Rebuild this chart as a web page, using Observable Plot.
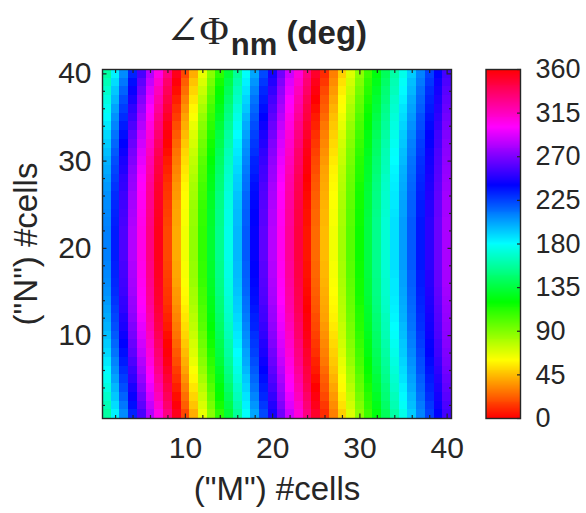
<!DOCTYPE html>
<html>
<head>
<meta charset="utf-8">
<script src="https://cdn.jsdelivr.net/npm/d3@7"></script>
<script src="https://cdn.jsdelivr.net/npm/@observablehq/plot@0.6"></script>
<style>
  html, body { margin: 0; padding: 0; background: #fff; }
  #figure { position: relative; width: 586px; height: 513px; overflow: hidden;
            font-family: "Liberation Sans", Arial, Helvetica, sans-serif; color: #262626; }
  #figure svg { position: absolute; left: 0; top: 0; }
  #title { position: absolute; left: 92px; width: 349px; top: 14px; z-index: 2;
           text-align: center; font-size: 33px; font-weight: bold; line-height: 34px; white-space: nowrap; }
  #title .sym { font-family: "Liberation Serif", "DejaVu Serif", serif; font-weight: normal; font-size: 40px; }
  #title .sub { position: relative; top: 11px; font-size: 31px; margin-left: 2px; }
</style>
</head>
<body>
<div id="figure">
  <div id="title"><span class="sym">∠Φ</span><span class="sub">nm</span> (deg)</div>
</div>
<script>
// Cell indices along the two array directions
const cellsM = [1,2,3,4,5,6,7,8,9,10,11,12,13,14,15,16,17,18,19,20,21,22,23,24,25,26,27,28,29,30,31,32,33,34,35,36,37,38,39,40];
const cellsN = [1,2,3,4,5,6,7,8,9,10,11,12,13,14,15,16,17,18,19,20,21,22,23,24,25,26,27,28,29,30,31,32,33,34,35,36,37,38,39,40];

// Phase of each cell in degrees; one row per N (N = 1 first), one entry per M
const phaseRows = [
  [158,183,207,232,257,282,306,330,354,17,41,65,88,110,133,156,179,201,223,245,266,288,309,330,350,10,30,49,68,87,106,123,141,159,175,192,209,225,240,256],
  [163,188,212,237,262,286,311,335,358,22,46,69,92,115,137,160,183,205,227,248,270,292,312,333,354,13,33,53,71,90,109,126,144,162,178,195,211,227,243,258],
  [168,193,217,242,266,291,316,339,3,26,50,73,96,119,141,164,186,209,231,252,274,295,316,336,357,17,36,56,74,93,111,129,147,164,181,197,214,230,245,261],
  [173,197,222,246,271,295,320,343,7,30,54,77,100,122,145,167,190,213,234,256,277,299,319,340,0,20,39,59,77,96,114,132,149,167,183,200,216,232,247,263],
  [177,202,226,251,275,299,324,347,11,34,58,81,104,126,149,171,193,216,237,259,280,302,322,343,3,22,42,61,80,98,117,134,152,169,186,202,218,234,249,265],
  [181,206,230,254,279,303,328,351,14,38,61,85,107,129,152,174,197,219,240,262,283,305,325,345,6,25,45,64,82,101,119,137,154,171,188,204,221,236,251,267],
  [185,209,234,258,282,307,331,355,18,41,65,88,110,133,155,177,200,222,243,265,286,307,328,348,8,28,47,66,85,103,121,139,156,173,190,206,222,238,253,269],
  [189,213,237,262,286,310,334,358,21,44,68,91,113,136,158,180,202,225,246,267,289,310,330,350,11,30,49,69,87,105,124,141,158,175,192,208,224,240,255,270],
  [192,216,240,265,289,313,337,1,24,47,70,94,116,138,160,183,205,227,248,270,291,312,332,353,13,32,51,71,89,107,125,143,160,177,193,210,226,241,256,272],
  [195,219,243,268,292,316,340,3,27,50,73,96,118,141,163,185,207,229,251,272,293,314,335,355,15,34,53,73,91,109,127,144,162,179,195,211,227,243,258,273],
  [198,222,246,270,294,319,343,6,29,52,75,99,121,143,165,187,209,232,253,274,295,316,336,357,17,36,55,74,92,111,129,146,163,180,196,213,229,244,259,274],
  [200,224,248,273,297,321,345,8,31,54,77,101,123,145,167,189,211,233,255,276,297,318,338,358,18,38,57,76,94,112,130,147,164,182,198,214,230,245,260,275],
  [202,226,251,275,299,323,347,10,33,56,79,102,125,147,169,191,213,235,256,277,298,320,340,0,20,39,58,77,95,113,131,149,166,183,199,215,231,246,261,276],
  [204,228,252,276,301,325,349,12,35,58,81,104,126,148,170,192,214,237,258,279,300,321,341,1,21,40,59,78,96,115,133,150,167,184,200,216,232,247,262,277],
  [206,230,254,278,302,326,350,13,36,59,82,105,128,150,172,194,216,238,259,280,301,322,342,2,22,41,60,79,97,116,134,151,168,185,201,217,233,248,263,278],
  [207,231,255,279,303,327,351,14,38,61,84,107,129,151,173,195,217,239,260,281,302,323,343,3,23,42,61,80,98,116,134,151,168,185,202,218,234,249,264,279],
  [208,232,256,280,304,328,352,15,39,62,85,108,130,152,174,196,218,240,261,282,303,324,344,4,24,43,62,81,99,117,135,152,169,186,202,218,234,249,264,279],
  [209,233,257,281,305,329,353,16,39,62,85,108,130,152,174,196,218,240,261,282,303,324,344,4,24,43,62,81,99,117,136,153,170,187,203,219,235,250,265,280],
  [210,234,258,282,306,330,354,17,40,63,86,109,131,153,175,197,219,241,262,283,304,325,345,5,25,44,63,82,100,118,136,153,170,187,203,219,235,250,265,280],
  [210,234,258,282,306,330,354,17,40,63,86,109,131,153,175,197,219,241,262,283,304,325,345,5,25,44,63,82,100,118,136,153,170,187,203,219,235,250,265,280],
  [210,234,258,282,306,330,354,17,40,63,86,109,131,153,175,197,219,241,262,283,304,325,345,5,25,44,63,82,100,118,136,153,170,187,203,219,235,250,265,280],
  [210,234,258,282,306,330,354,17,40,63,86,109,131,153,175,197,219,241,262,283,304,325,345,5,25,44,63,82,100,118,136,153,170,187,203,219,235,250,265,280],
  [209,233,257,281,305,329,353,16,39,62,85,108,130,152,174,196,218,240,261,282,303,324,344,4,24,43,62,81,99,117,136,153,170,187,203,219,235,250,265,280],
  [208,232,256,280,304,328,352,15,39,62,85,108,130,152,174,196,218,240,261,282,303,324,344,4,24,43,62,81,99,117,135,152,169,186,202,218,234,249,264,279],
  [207,231,255,279,303,327,351,14,38,61,84,107,129,151,173,195,217,239,260,281,302,323,343,3,23,42,61,80,98,116,134,151,168,185,202,218,234,249,264,279],
  [206,230,254,278,302,326,350,13,36,59,82,105,128,150,172,194,216,238,259,280,301,322,342,2,22,41,60,79,97,116,134,151,168,185,201,217,233,248,263,278],
  [204,228,252,276,301,325,349,12,35,58,81,104,126,148,170,192,214,237,258,279,300,321,341,1,21,40,59,78,96,115,133,150,167,184,200,216,232,247,262,277],
  [202,226,251,275,299,323,347,10,33,56,79,102,125,147,169,191,213,235,256,277,298,320,340,0,20,39,58,77,95,113,131,149,166,183,199,215,231,246,261,276],
  [200,224,248,273,297,321,345,8,31,54,77,101,123,145,167,189,211,233,255,276,297,318,338,358,18,38,57,76,94,112,130,147,164,182,198,214,230,245,260,275],
  [198,222,246,270,294,319,343,6,29,52,75,99,121,143,165,187,209,232,253,274,295,316,336,357,17,36,55,74,92,111,129,146,163,180,196,213,229,244,259,274],
  [195,219,243,268,292,316,340,3,27,50,73,96,118,141,163,185,207,229,251,272,293,314,335,355,15,34,53,73,91,109,127,144,162,179,195,211,227,243,258,273],
  [192,216,240,265,289,313,337,1,24,47,70,94,116,138,160,183,205,227,248,270,291,312,332,353,13,32,51,71,89,107,125,143,160,177,193,210,226,241,256,272],
  [189,213,237,262,286,310,334,358,21,44,68,91,113,136,158,180,202,225,246,267,289,310,330,350,11,30,49,69,87,105,124,141,158,175,192,208,224,240,255,270],
  [185,209,234,258,282,307,331,355,18,41,65,88,110,133,155,177,200,222,243,265,286,307,328,348,8,28,47,66,85,103,121,139,156,173,190,206,222,238,253,269],
  [181,206,230,254,279,303,328,351,14,38,61,85,107,129,152,174,197,219,240,262,283,305,325,345,6,25,45,64,82,101,119,137,154,171,188,204,221,236,251,267],
  [177,202,226,251,275,299,324,347,11,34,58,81,104,126,149,171,193,216,237,259,280,302,322,343,3,22,42,61,80,98,117,134,152,169,186,202,218,234,249,265],
  [173,197,222,246,271,295,320,343,7,30,54,77,100,122,145,167,190,213,234,256,277,299,319,340,0,20,39,59,77,96,114,132,149,167,183,200,216,232,247,263],
  [168,193,217,242,266,291,316,339,3,26,50,73,96,119,141,164,186,209,231,252,274,295,316,336,357,17,36,56,74,93,111,129,147,164,181,197,214,230,245,261],
  [163,188,212,237,262,286,311,335,358,22,46,69,92,115,137,160,183,205,227,248,270,292,312,333,354,13,33,53,71,90,109,126,144,162,178,195,211,227,243,258],
  [158,183,207,232,257,282,306,330,354,17,41,65,88,110,133,156,179,201,223,245,266,288,309,330,350,10,30,49,68,87,106,123,141,159,175,192,209,225,240,256]
];

const majorTicks = [10, 20, 30, 40];
const minorTicks = [2, 4, 6, 8, 12, 14, 16, 18, 22, 24, 26, 28, 32, 34, 36, 38];
const colorTicks = [0, 45, 90, 135, 180, 225, 270, 315, 360];
const xLabel = '("M") #cells';
const yLabel = '("N") #cells';

// Long table: one record per cell
const cells = cellsN.flatMap((n, i) => cellsM.map((m, j) => ({m, n, phase: phaseRows[i][j]})));

const ink = "#262626";
const font = '"Liberation Sans", Arial, Helvetica, sans-serif';
// hue wheel colour map: 0° and 360° are both red
const phaseColor = {type: "linear", domain: [0, 360], interpolate: t => d3.hsl(t * 360, 1, 0.5).formatRgb()};

const figure = document.getElementById("figure");

const heat = Plot.plot({
  width: 586, height: 513,
  marginTop: 69, marginRight: 135, marginBottom: 95, marginLeft: 102,
  x: {domain: [0.5, 40.5]},
  y: {domain: [0.5, 40.5]},
  color: phaseColor,
  style: {background: "transparent", fontFamily: font, fontSize: "30px", color: ink},
  marks: [
    Plot.rect(cells, {
      x1: d => d.m - 0.5, x2: d => d.m + 0.5,
      y1: d => d.n - 0.5, y2: d => d.n + 0.5,
      fill: "phase", shapeRendering: "crispEdges"
    }),
    Plot.axisX({anchor: "bottom", ticks: majorTicks, tickSize: -4.5, tickPadding: 23, label: null, strokeWidth: 1.2}),
    Plot.axisX({anchor: "bottom", ticks: minorTicks, tickSize: -3, tickFormat: () => "", label: null, strokeWidth: 1.2}),
    Plot.axisX({anchor: "top", ticks: majorTicks, tickSize: -4.5, tickFormat: () => "", label: null, strokeWidth: 1.2}),
    Plot.axisX({anchor: "top", ticks: minorTicks, tickSize: -3, tickFormat: () => "", label: null, strokeWidth: 1.2}),
    Plot.axisY({anchor: "left", ticks: majorTicks, tickSize: -4.5, tickPadding: 15.5, label: null, strokeWidth: 1.2}),
    Plot.axisY({anchor: "left", ticks: minorTicks, tickSize: -3, tickFormat: () => "", label: null, strokeWidth: 1.2}),
    Plot.axisY({anchor: "right", ticks: majorTicks, tickSize: -4.5, tickFormat: () => "", label: null, strokeWidth: 1.2}),
    Plot.axisY({anchor: "right", ticks: minorTicks, tickSize: -3, tickFormat: () => "", label: null, strokeWidth: 1.2}),
    Plot.frame({stroke: ink, strokeWidth: 1.4}),
    Plot.text([xLabel], {frameAnchor: "bottom", dy: 81, fontSize: 33, fill: ink}),
    Plot.text([yLabel], {frameAnchor: "left", textAnchor: "middle", dx: -76, rotate: -90, fontSize: 33, fill: ink})
  ]
});
figure.appendChild(heat);

// Vertical colour bar with its own 0–360 scale
const levels = d3.range(0, 360, 1);
const bar = Plot.plot({
  width: 586, height: 513,
  marginTop: 69, marginRight: 66, marginBottom: 95, marginLeft: 485.5,
  x: {domain: [0, 1], axis: null},
  y: {domain: [0, 360]},
  color: phaseColor,
  style: {background: "transparent", fontFamily: font, fontSize: "27px", color: ink},
  marks: [
    Plot.rect(levels, {x1: 0, x2: 1, y1: d => d, y2: d => d + 1, fill: d => d + 0.5, shapeRendering: "crispEdges"}),
    Plot.axisY({anchor: "right", ticks: colorTicks, tickSize: -4, tickPadding: 19, label: null, strokeWidth: 1.2}),
    Plot.frame({stroke: ink, strokeWidth: 1.4})
  ]
});
figure.appendChild(bar);
</script>
</body>
</html>
